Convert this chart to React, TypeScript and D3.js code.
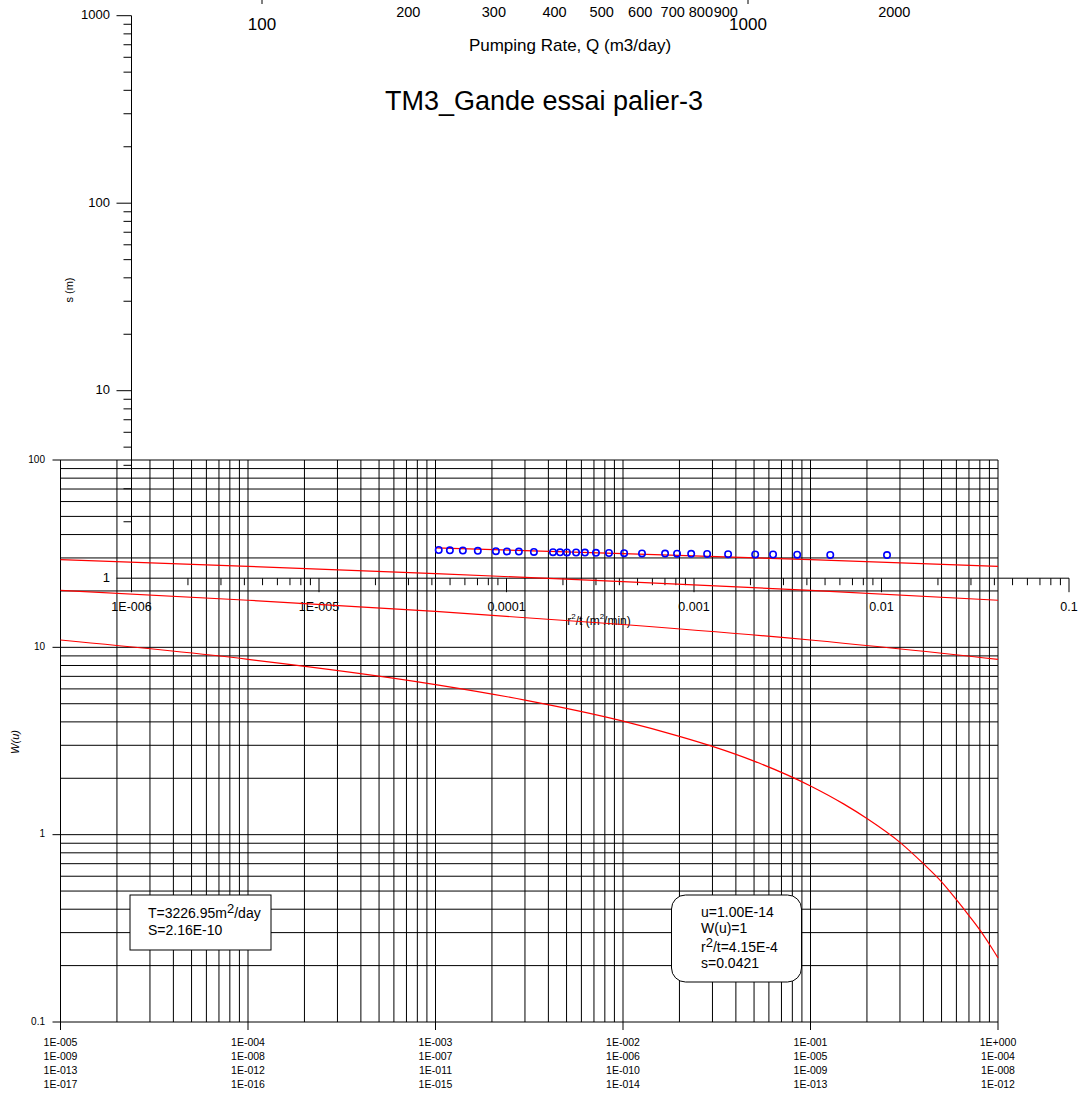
import React from 'react';
import * as d3 from 'd3';

const WIDTH = 1084;
const HEIGHT = 1097;

// Observed data: r^2/t (m^2/min) and drawdown s (m)
const rtValues = [4.35e-5, 4.99e-5, 5.85e-5, 7.03e-5, 8.78e-5, 1.005e-4, 1.164e-4, 1.40e-4, 1.77e-4, 1.93e-4, 2.10e-4, 2.35e-4, 2.62e-4, 3.00e-4, 3.52e-4, 4.24e-4, 5.28e-4, 7.01e-4, 8.12e-4, 9.66e-4, 1.175e-3, 1.52e-3, 2.12e-3, 2.64e-3, 3.55e-3, 5.33e-3, 1.07e-2];
const sValues = [1.414, 1.409, 1.405, 1.400, 1.393, 1.390, 1.386, 1.381, 1.376, 1.374, 1.373, 1.371, 1.369, 1.366, 1.363, 1.359, 1.356, 1.353, 1.351, 1.349, 1.346, 1.343, 1.339, 1.338, 1.335, 1.331, 1.328];

// Type curves W(u), read at bottom-axis positions
const curveAx = [1e-3, 1e-2, 1e-1, 1];
const curveAw = [33.96, 31.66, 29.36, 27.05];
const curveBCx = [1e-5, 1e-4, 1e-3, 1e-2, 1e-1, 1];
const curveBw = [29.36, 27.05, 24.75, 22.45, 20.15, 17.84];
const curveCw = [20.15, 17.84, 15.54, 13.24, 10.94, 8.63];
const curveDx = [1e-5, 1e-4, 1e-3, 3e-3, 1e-2, 2e-2, 3e-2, 5e-2, 0.1, 0.15, 0.2, 0.3, 0.4, 0.5, 0.6, 0.7, 0.8, 0.9, 1];
const curveDw = [10.94, 8.63, 6.33, 5.23, 4.04, 3.35, 2.96, 2.47, 1.82, 1.46, 1.22, 0.91, 0.70, 0.56, 0.45, 0.37, 0.31, 0.26, 0.22];

// Tick labels
const bottomTickValues = [1e-5, 1e-4, 1e-3, 1e-2, 1e-1, 1];
const bottomRow1 = ['1E-005', '1E-004', '1E-003', '1E-002', '1E-001', '1E+000'];
const bottomRow2 = ['1E-009', '1E-008', '1E-007', '1E-006', '1E-005', '1E-004'];
const bottomRow3 = ['1E-013', '1E-012', '1E-011', '1E-010', '1E-009', '1E-008'];
const bottomRow4 = ['1E-017', '1E-016', '1E-015', '1E-014', '1E-013', '1E-012'];
const wTickValues = [0.1, 1, 10, 100];
const wTickLabels = ['0.1', '1', '10', '100'];
const sTickValues = [1, 10, 100, 1000];
const sTickLabels = ['1', '10', '100', '1000'];
const rtTickValues = [1e-6, 1e-5, 1e-4, 1e-3, 1e-2, 1e-1];
const rtTickLabels = ['1E-006', '1E-005', '0.0001', '0.001', '0.01', '0.1'];
const qMinorValues = [200, 300, 400, 500, 600, 700, 800, 900, 2000];
const qMajorValues = [100, 1000];

const FONT = 'Liberation Sans, Arial, Helvetica, sans-serif';

export default function App() {
  const xMain = d3.scaleLog().domain([1e-5, 1]).range([60.5, 998]);
  const yMain = d3.scaleLog().domain([0.1, 100]).range([1022, 460]);
  const xRt = d3.scaleLog().domain([1e-6, 0.1]).range([131.5, 1069]);
  const yS = d3.scaleLog().domain([1, 1000]).range([578.2, 15.7]);
  const xQ = d3.scaleLog().domain([100, 1000]).range([262, 748]);

  const isDecade = (v: number) => Math.abs(Math.log10(v) - Math.round(Math.log10(v))) < 1e-9;

  const line = d3.line<[number, number]>()
    .x(d => xMain(d[0]))
    .y(d => yMain(d[1]))
    .curve(d3.curveMonotoneX);

  const curves = [
    curveAx.map((x, i) => [x, curveAw[i]] as [number, number]),
    curveBCx.map((x, i) => [x, curveBw[i]] as [number, number]),
    curveBCx.map((x, i) => [x, curveCw[i]] as [number, number]),
    curveDx.map((x, i) => [x, curveDw[i]] as [number, number]),
  ];

  const xGrid = xMain.ticks();
  const yGrid = yMain.ticks();
  const sTicks = yS.ticks();
  const rtTicks = xRt.ticks();
  const [x0, x1] = xMain.range();
  const [yb, yt] = yMain.range();
  const sAxisX = xRt(1e-6);
  const rtAxisY = yS(1);

  const rows = [bottomRow1, bottomRow2, bottomRow3, bottomRow4];
  const rowY = [1043, 1057, 1071, 1085];

  return (
    <svg width={WIDTH} height={HEIGHT} style={{ position: 'absolute', left: 0, top: 0, background: '#fff' }} fontFamily={FONT}>
      <rect x={0} y={0} width={WIDTH} height={HEIGHT} fill="#fff" />

      {/* Top pumping-rate axis */}
      {qMajorValues.map(v => (
        <line key={'qt' + v} x1={xQ(v)} x2={xQ(v)} y1={-5} y2={4} stroke="#000" />
      ))}
      {qMinorValues.map(v => (
        <text key={'ql' + v} x={xQ(v)} y={13} fontSize={14.5} textAnchor="middle" dominantBaseline="middle">{v}</text>
      ))}
      {qMajorValues.map(v => (
        <text key={'qL' + v} x={xQ(v)} y={26} fontSize={17} textAnchor="middle" dominantBaseline="middle">{v}</text>
      ))}
      <text x={570} y={47} fontSize={17} textAnchor="middle" dominantBaseline="middle">Pumping Rate, Q (m3/day)</text>

      <text x={544} y={103} fontSize={27} textAnchor="middle" dominantBaseline="middle">TM3_Gande essai palier-3</text>

      {/* Main grid */}
      {xGrid.map((v, i) => (
        <line key={'xg' + i} x1={xMain(v)} x2={xMain(v)} y1={yt} y2={isDecade(v) ? yb + 8 : yb} stroke="#000" strokeWidth={1} />
      ))}
      {yGrid.map((v, i) => (
        <line key={'yg' + i} x1={isDecade(v) ? x0 - 8 : x0} x2={x1} y1={yMain(v)} y2={yMain(v)} stroke="#000" strokeWidth={1} />
      ))}
      {wTickValues.map((v, i) => (
        <text key={'wl' + i} x={45} y={yMain(v)} fontSize={10} textAnchor="end" dominantBaseline="middle">{wTickLabels[i]}</text>
      ))}
      {bottomTickValues.map((v, i) => rows.map((r, j) => (
        <text key={'bl' + i + '_' + j} x={xMain(v)} y={rowY[j]} fontSize={10.5} textAnchor="middle" dominantBaseline="middle">{r[i]}</text>
      )))}
      <text transform={`translate(16,742) rotate(-90)`} fontSize={11} fontStyle="italic" textAnchor="middle" dominantBaseline="middle">W(u)</text>

      {/* Second axis system: s vs r2/t */}
      <line x1={sAxisX} x2={sAxisX} y1={yS(1000)} y2={rtAxisY} stroke="#000" />
      {sTicks.map((v, i) => (
        <line key={'st' + i} x1={sAxisX - (isDecade(v) ? 15 : 8)} x2={sAxisX} y1={yS(v)} y2={yS(v)} stroke="#000" />
      ))}
      {sTickValues.map((v, i) => (
        <text key={'sl' + i} x={110} y={yS(v)} fontSize={13} textAnchor="end" dominantBaseline="middle">{sTickLabels[i]}</text>
      ))}
      <text transform={`translate(70,290) rotate(-90)`} fontSize={11} textAnchor="middle" dominantBaseline="middle">s (m)</text>

      <line x1={xRt(1e-6)} x2={xRt(0.1)} y1={rtAxisY} y2={rtAxisY} stroke="#000" />
      {rtTicks.map((v, i) => (
        <line key={'rt' + i} x1={xRt(v)} x2={xRt(v)} y1={rtAxisY} y2={rtAxisY + (isDecade(v) ? 14 : 7)} stroke="#000" />
      ))}
      {rtTickValues.map((v, i) => (
        <text key={'rl' + i} x={xRt(v)} y={608} fontSize={12.5} textAnchor="middle" dominantBaseline="middle">{rtTickLabels[i]}</text>
      ))}
      <text x={599} y={622} fontSize={12} textAnchor="middle" dominantBaseline="middle">
        r<tspan fontSize={8} dy={-5}>2</tspan><tspan dy={5}>/t (m</tspan><tspan fontSize={8} dy={-5}>2</tspan><tspan dy={5}>/min)</tspan>
      </text>

      {/* Type curves */}
      {curves.map((c, i) => (
        <path key={'c' + i} d={line(c) || ''} fill="none" stroke="#ff0000" strokeWidth={1.2} />
      ))}

      {/* Data points */}
      {rtValues.map((v, i) => (
        <circle key={'p' + i} cx={xRt(v)} cy={yS(sValues[i])} r={3.2} fill="none" stroke="#0000ff" strokeWidth={1.6} />
      ))}

      {/* Result box */}
      <rect x={130} y={895} width={141} height={55} fill="#fff" stroke="#000" />
      <text x={148} y={918} fontSize={14}>T=3226.95m<tspan dy={-5} fontSize={13}>2</tspan><tspan dy={5}>/day</tspan></text>
      <text x={148} y={935} fontSize={14}>S=2.16E-10</text>

      {/* Match point box */}
      <rect x={671.5} y={895} width={130} height={87} rx={14} ry={14} fill="#fff" stroke="#000" />
      <text x={701} y={917} fontSize={14}>u=1.00E-14</text>
      <text x={701} y={933} fontSize={14}>W(u)=1</text>
      <text x={701} y={952} fontSize={14}>r<tspan dy={-5} fontSize={13}>2</tspan><tspan dy={5}>/t=4.15E-4</tspan></text>
      <text x={701} y={968} fontSize={14}>s=0.0421</text>
    </svg>
  );
}
